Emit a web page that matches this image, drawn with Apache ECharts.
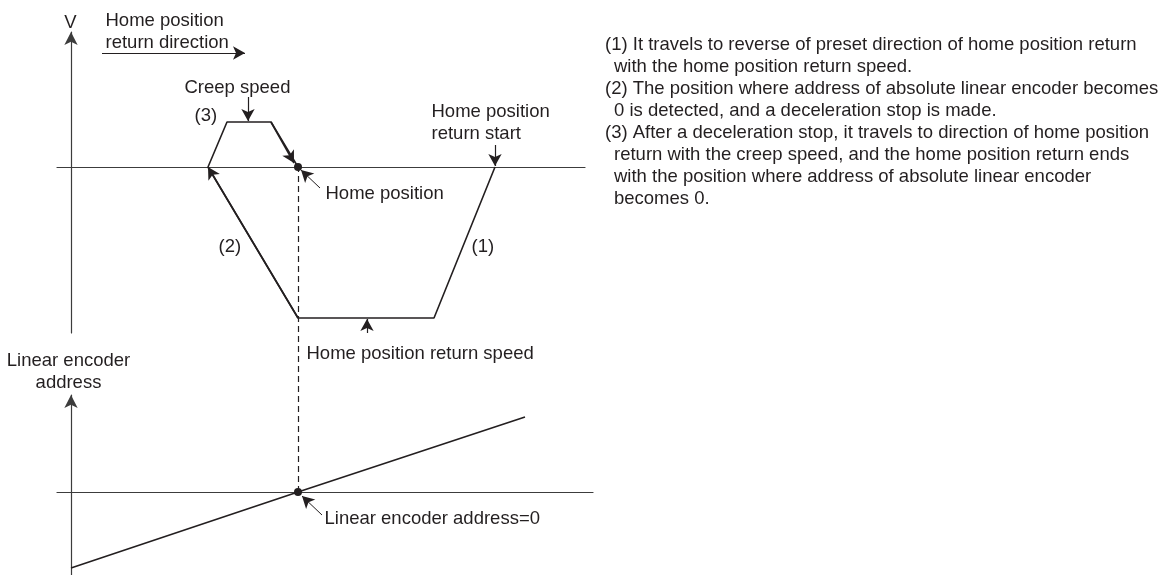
<!DOCTYPE html>
<html>
<head>
<meta charset="utf-8">
<script src="https://cdn.jsdelivr.net/npm/echarts@6/dist/echarts.min.js"></script>
<style>
  html, body { margin: 0; padding: 0; background: #fff; }
  #chart { width: 1166px; height: 575px; }
</style>
</head>
<body>
<div id="chart"></div>
<script>
// speed profile of the home position return: position / speed
const speedPos = [424, 363, 227, 137, 156, 200, 227];
const speedVal = [0, -151, -151, 0, 45, 45, 0];
// linear encoder address against position
const encoderPos = [0, 227, 454];
const encoderVal = [-76, 0, 75];
// home position (where the encoder address becomes 0)
const homePos = 227;

const notes = [
  ['(1) It travels to reverse of preset direction of home position return',
   'with the home position return speed.'],
  ['(2) The position where address of absolute linear encoder becomes',
   '0 is detected, and a deceleration stop is made.'],
  ['(3) After a deceleration stop, it travels to direction of home position',
   'return with the creep speed, and the home position return ends',
   'with the position where address of absolute linear encoder',
   'becomes 0.']
];

const ink = '#231f20';
const axisInk = '#3c3c3c';
const font = 'Liberation Sans';
const fontSize = 18.5;

const chart = echarts.init(document.getElementById('chart'));

const pairs = (xs, ys) => xs.map((x, i) => [x, ys[i]]);

// one arrow for markLine, arrowhead at "to"
function arrow(from, to, width) {
  return [
    { coord: from, lineStyle: { color: ink, width: width || 1.2, type: 'solid' } },
    { coord: to }
  ];
}

// text anchored at a data point
function tag(text, x, y, align) {
  return { name: text, value: [x, y], label: { align: align || 'left' } };
}

const hiddenAxis = {
  type: 'value',
  axisTick: { show: false },
  axisLabel: { show: false },
  splitLine: { show: false }
};

const textSeries = (gi, data) => ({
  type: 'scatter',
  xAxisIndex: gi,
  yAxisIndex: gi,
  data: data,
  symbolSize: 1,
  clip: false,
  silent: true,
  itemStyle: { color: 'transparent' },
  label: {
    show: true,
    formatter: '{b}',
    position: [0, 0],
    offset: [0, 2.5],
    verticalAlign: 'middle',
    color: ink,
    opacity: 1,
    fontFamily: font,
    fontSize: fontSize,
    lineHeight: 22
  }
});

const markCommon = {
  silent: true,
  animation: false,
  symbol: ['none', 'arrow'],
  symbolSize: [10, 12],
  label: { show: false },
  lineStyle: { color: ink, width: 1.2, type: 'solid' }
};

// the notes on the right
const graphic = [];
notes.forEach((lines) => {
  lines.forEach((line, k) => {
    graphic.push({ type: 'text', silent: true, x: k === 0 ? 605 : 614, y: 0,
      style: { text: line, fill: ink, font: fontSize + 'px ' + font, verticalAlign: 'middle' } });
  });
});
graphic.forEach((g, i) => { g.y = 44.5 + i * 22; });

const option = {
  animation: false,
  backgroundColor: '#fff',
  graphic: graphic,
  grid: [
    { left: 57, width: 528, top: 32, height: 301 },
    { left: 57, width: 536, top: 395, height: 180 }
  ],
  xAxis: [
    Object.assign({}, hiddenAxis, { gridIndex: 0, min: -14, max: 514,
      axisLine: { show: true, onZero: true, lineStyle: { color: axisInk, width: 1.2 } } }),
    Object.assign({}, hiddenAxis, { gridIndex: 1, min: -14, max: 522,
      axisLine: { show: true, onZero: true, lineStyle: { color: axisInk, width: 1.2 } } })
  ],
  yAxis: [
    Object.assign({}, hiddenAxis, { gridIndex: 0, min: -166, max: 135,
      axisLine: { show: true, onZero: true, symbol: ['none', 'arrow'], symbolSize: [10, 13],
        lineStyle: { color: axisInk, width: 1.2 } } }),
    Object.assign({}, hiddenAxis, { gridIndex: 1, min: -83, max: 97,
      axisLine: { show: true, onZero: true, symbol: ['none', 'arrow'], symbolSize: [10, 13],
        lineStyle: { color: axisInk, width: 1.2 } } })
  ],
  series: [
    {
      type: 'line',
      name: 'Speed',
      xAxisIndex: 0,
      yAxisIndex: 0,
      data: pairs(speedPos, speedVal),
      showSymbol: false,
      clip: false,
      silent: true,
      lineStyle: { color: ink, width: 1.6 },
      markLine: Object.assign({}, markCommon, {
        data: [
          arrow([speedPos[2], speedVal[2]], [speedPos[3], speedVal[3]], 1.6),
          arrow([speedPos[5], speedVal[5]], [homePos - 4, 4], 1.6),
          arrow([31, 114], [174, 114]),           // home position return direction
          arrow([177, 70], [177, 46]),            // creep speed
          arrow([424, 22], [424, 1]),             // return start
          arrow([249, -21], [230, -3], 1),        // home position
          arrow([296, -166], [296, -152])         // return speed
        ]
      })
    },
    {
      type: 'scatter',
      xAxisIndex: 0,
      yAxisIndex: 0,
      data: [[homePos, 0]],
      symbolSize: 8,
      silent: true,
      itemStyle: { color: ink, opacity: 1 }
    },
    textSeries(0, [
      tag('V', 0, 146, 'center'),
      tag('Home position\nreturn direction', 35, 137),
      tag('Creep speed', 114, 81),
      tag('(3)', 124, 53),
      tag('Home position\nreturn start', 361, 46),
      tag('Home position', 255, -25),
      tag('(2)', 148, -78),
      tag('(1)', 401, -78),
      tag('Home position return speed', 236, -185)
    ]),
    {
      type: 'line',
      name: 'Linear encoder address',
      xAxisIndex: 1,
      yAxisIndex: 1,
      data: pairs(encoderPos, encoderVal),
      showSymbol: false,
      clip: false,
      silent: true,
      lineStyle: { color: ink, width: 1.6 },
      markLine: Object.assign({}, markCommon, {
        data: [
          arrow([251, -23], [231, -4], 1)         // encoder address = 0
        ]
      })
    },
    {
      // dashed drop line from the home position on the speed axis down to the encoder axis
      type: 'custom',
      xAxisIndex: 1,
      yAxisIndex: 1,
      clip: false,
      silent: true,
      data: [[homePos, 0, 325]],
      renderItem: function (params, api) {
        const a = api.coord([api.value(0), api.value(1)]);
        const b = api.coord([api.value(0), api.value(2)]);
        return {
          type: 'line',
          shape: { x1: Math.round(a[0]) + 0.5, y1: a[1], x2: Math.round(b[0]) + 0.5, y2: b[1] },
          style: { stroke: ink, lineWidth: 1.2, lineDash: [6, 4], fill: null }
        };
      }
    },
    {
      type: 'scatter',
      xAxisIndex: 1,
      yAxisIndex: 1,
      data: [[homePos, 0]],
      symbolSize: 8,
      silent: true,
      itemStyle: { color: ink, opacity: 1 }
    },
    textSeries(1, [
      tag('Linear encoder\naddress', -2, 122, 'center'),
      tag('Linear encoder address=0', 254, -25)
    ])
  ]
};

chart.setOption(option);
</script>
</body>
</html>
